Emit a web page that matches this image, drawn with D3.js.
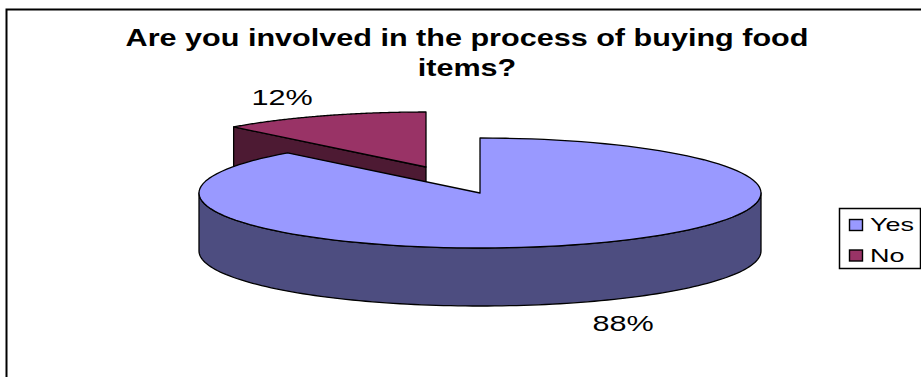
<!DOCTYPE html>
<html>
<head>
<meta charset="utf-8">
<script src="https://cdn.jsdelivr.net/npm/d3@7"></script>
<style>
  html, body { margin: 0; padding: 0; background: #fff; }
  svg { display: block; }
  text { font-family: "Liberation Sans", Arial, sans-serif; fill: #000; }
</style>
</head>
<body>
<svg id="chart" width="921" height="377"></svg>
<script>
const categories = ["Yes", "No"];
const shares = [88, 12];
const shareLabels = ["88%", "12%"];
const titleLines = ["Are you involved in the process of buying food", "items?"];
const topColors = ["#9999ff", "#993366"];
const wallColors = ["#4d4d80", "#4d1a33"];

const svg = d3.select("#chart");
const width = 921, height = 377;
const rx = 281, ry = 55, depth = 58;
const centers = [{ x: 480, y: 193 }, { x: 426, y: 167 }];

// All lettering is set wide, stretched along x only
const placeText = (x, y, stretch) => `translate(${x},${y}) scale(${stretch},1)`;

// Slices run clockwise from twelve o'clock, in category order
const slices = d3.pie().sort(null).value(d => d)(shares);

const project = (c, a, drop = 0) => [
  c.x + rx * Math.sin(a),
  c.y - ry * Math.cos(a) + drop
];
const line = d3.line();
const anglesBetween = (a0, a1) => d3.range(0, 121).map(i => a0 + (a1 - a0) * i / 120);

// Closed top face of a slice
const topFace = (c, s) => line(
  [[c.x, c.y]].concat(anglesBetween(s.startAngle, s.endAngle).map(a => project(c, a)))
) + "Z";

// Curved outer wall for the part of an arc that faces the viewer
const outerWall = (c, a0, a1) => {
  const arc = anglesBetween(a0, a1);
  return line(
    arc.map(a => project(c, a)).concat(arc.slice().reverse().map(a => project(c, a, depth)))
  ) + "Z";
};

// Flat wall along the radial cut of a slice
const cutWall = (c, a) => {
  const p = project(c, a);
  return line([[c.x, c.y], p, [p[0], p[1] + depth], [c.x, c.y + depth]]) + "Z";
};

const strokeStyle = sel => sel.attr("stroke", "#000").attr("stroke-width", 1.3).attr("stroke-linejoin", "round");

// Chart frame: open along the right and bottom
svg.append("path")
  .attr("d", line([[6.5, height], [6.5, 9.5], [width, 9.5]]))
  .attr("fill", "none").attr("stroke", "#000").attr("stroke-width", 2);

// The detached slice sits behind the main one
const detached = slices[1], main = slices[0];
const cDet = centers[1], cMain = centers[0];

svg.append("path").attr("d", cutWall(cDet, detached.startAngle))
  .attr("fill", wallColors[1]).call(strokeStyle);
svg.append("path").attr("d", topFace(cDet, detached))
  .attr("fill", topColors[1]).call(strokeStyle);

svg.append("path").attr("d", outerWall(cMain, Math.PI / 2, Math.PI * 1.5))
  .attr("fill", wallColors[0]).call(strokeStyle);
svg.append("path").attr("d", topFace(cMain, main))
  .attr("fill", topColors[0]).call(strokeStyle);

// Title
svg.append("g").selectAll("text").data(titleLines).join("text")
  .attr("transform", (d, i) => placeText(467, 46 + i * 30, 1.33))
  .attr("text-anchor", "middle")
  .attr("font-size", 23)
  .attr("font-weight", "bold")
  .text(d => d);

// Value labels
const labelPos = [{ x: 623, y: 331 }, { x: 282, y: 105 }];
svg.append("g").selectAll("text").data(shareLabels).join("text")
  .attr("transform", (d, i) => placeText(labelPos[i].x, labelPos[i].y, 1.39))
  .attr("text-anchor", "middle")
  .attr("font-size", 22)
  .text(d => d);

// Legend
const legend = svg.append("g");
legend.append("rect")
  .attr("x", 839.5).attr("y", 208.5).attr("width", 81).attr("height", 60)
  .attr("fill", "#fff").attr("stroke", "#000").attr("stroke-width", 1.5);
const rows = legend.selectAll("g").data(categories).join("g")
  .attr("transform", (d, i) => `translate(0, ${225 + i * 30.5})`);
rows.append("rect")
  .attr("x", 849.5).attr("y", -5.5).attr("width", 13).attr("height", 11)
  .attr("fill", (d, i) => topColors[i])
  .attr("stroke", "#000").attr("stroke-width", 1.4);
rows.append("text")
  .attr("transform", placeText(870, 6, 1.42))
  .attr("font-size", 19)
  .text(d => d);
</script>
</body>
</html>
